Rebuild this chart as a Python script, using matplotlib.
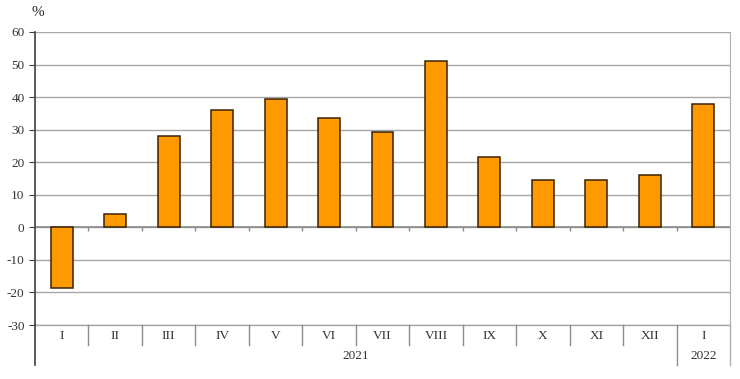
import numpy as np
import matplotlib
matplotlib.use('Agg')
import matplotlib.pyplot as plt
import matplotlib.transforms as mtransforms

months = ['I', 'II', 'III', 'IV', 'V', 'VI', 'VII', 'VIII', 'IX', 'X', 'XI', 'XII', 'I']
values = [-18.7, 4.0, 28.0, 36.0, 39.3, 33.5, 29.2, 51.0, 21.5, 14.5, 14.4, 16.0, 38.0]
years = ['2021', '2022']
year_counts = [12, 1]

plt.rcParams['font.family'] = ['Liberation Serif', 'DejaVu Serif']
plt.rcParams['axes.unicode_minus'] = False

fig = plt.figure(figsize=(7.4, 3.79), dpi=100)
ax = fig.add_axes([35 / 740, 54 / 379, 695 / 740, 293 / 379])

n = len(months)
x = np.arange(n)
ax.bar(x, values, width=0.41, color='#FF9900', edgecolor='#3a2200', linewidth=1.1, zorder=3)

ax.set_xlim(-0.5, n - 0.5)
ax.set_ylim(-30, 60)
ax.set_yticks(np.arange(-30, 61, 10))
ax.yaxis.grid(True, color='#a6a6a6', linewidth=1.0, zorder=0)
ax.axhline(-30, color='#a6a6a6', linewidth=1.0, clip_on=False, zorder=0)
ax.set_xticks([])
ax.tick_params(axis='y', labelsize=9.5, length=4, color='#404040')
for lab in ax.get_yticklabels():
    lab.set_color('#333333')

for s in ['top', 'bottom']:
    ax.spines[s].set_visible(False)
ax.spines['left'].set_color('#404040')
ax.spines['left'].set_linewidth(1.2)
ax.spines['right'].set_color('#b0b0b0')

# zero line with small boundary ticks
ax.axhline(0, color='#8c8c8c', linewidth=1.2, zorder=2)
bounds = np.arange(0.5, n - 0.5, 1)
ax.vlines(bounds, -1.0, 0, color='#8c8c8c', linewidth=1.0, zorder=2)

# category axis below the plot
trans = mtransforms.blended_transform_factory(ax.transData, ax.transAxes)
row1 = -20 / 293
row2 = -40 / 293
ax.plot([-0.5, -0.5], [0, row2], color='#404040', lw=1.2, transform=trans, clip_on=False)
ax.plot([n - 0.5, n - 0.5], [0, row2], color='#b0b0b0', lw=1.0, transform=trans, clip_on=False)
year_edges = np.cumsum(year_counts)[:-1] - 0.5
for b in bounds:
    bottom = row2 if b in year_edges else row1
    ax.plot([b, b], [0, bottom], color='#8c8c8c', lw=1.0, transform=trans, clip_on=False)
for xi, m in zip(x, months):
    ax.text(xi, -11 / 293, m, transform=trans, ha='center', va='center',
            fontsize=9.5, color='#333333')
start = 0
for yr, c in zip(years, year_counts):
    ax.text(start + (c - 1) / 2, -31 / 293, yr, transform=trans, ha='center',
            va='center', fontsize=9.5, color='#333333')
    start += c

fig.text(38 / 740, 1 - 12 / 379, '%', ha='center', va='center', fontsize=11, color='#222222')

fig.savefig('out.png', dpi=100)
